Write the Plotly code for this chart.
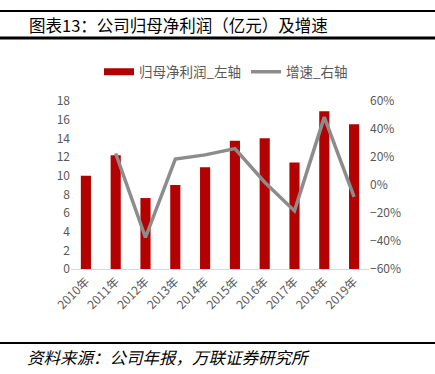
import plotly.graph_objects as go

years = ["2010年", "2011年", "2012年", "2013年", "2014年", "2015年", "2016年", "2017年", "2018年", "2019年"]
profit = [10.0, 12.2, 7.6, 9.0, 10.9, 13.75, 14.0, 11.4, 16.9, 15.5]
growth = [None, 0.225, -0.375, 0.185, 0.215, 0.26, 0.02, -0.185, 0.485, -0.085]

title_text = "图表13：公司归母净利润（亿元）及增速"
source_text = "资料来源：公司年报，万联证券研究所"

W, H = 435, 374
L, R, T, B = 71, 369, 101, 269
pw, ph = R - L, B - T

def px(x):
    return (x - L) / pw

def py(y):
    return (B - y) / ph

FONT = "Noto Sans CJK SC, Noto Sans, sans-serif"
GRAY = "#595959"
RED = "#B30000"
LGRAY = "#8C8C8C"

fig = go.Figure()
fig.add_trace(go.Bar(x=years, y=profit, name="归母净利润_左轴",
                     marker=dict(color=RED, line=dict(width=0)), yaxis="y", showlegend=False))
fig.add_trace(go.Scatter(x=[None], y=[None], name="归母净利润_左轴", mode="lines",
                         line=dict(color=RED, width=7), yaxis="y"))
fig.add_trace(go.Scatter(x=years, y=growth, name="增速_右轴", mode="lines",
                         line=dict(color=LGRAY, width=3.5), yaxis="y2"))

fig.update_layout(
    width=W, height=H,
    margin=dict(l=L, r=W - R, t=T, b=H - B, autoexpand=False),
    plot_bgcolor="white", paper_bgcolor="white",
    font=dict(family=FONT, size=12, color=GRAY),
    bargap=0.66,
    showlegend=True,
    legend=dict(orientation="h", x=px(226), y=py(72), xanchor="center", yanchor="middle",
                font=dict(size=13.5, color=GRAY), itemwidth=30, tracegroupgap=0,
                bgcolor="rgba(0,0,0,0)"),
    xaxis=dict(tickangle=-45, showline=True, linecolor="#D9D9D9", linewidth=1,
               showgrid=False, ticks="", tickfont=dict(size=12, color=GRAY)),
    yaxis=dict(range=[0, 18], dtick=2, showgrid=False, zeroline=False, showline=False,
               ticks="", tickfont=dict(size=12, color=GRAY)),
    yaxis2=dict(range=[-0.6, 0.6], dtick=0.2, tickformat=".0%", overlaying="y", side="right",
                showgrid=False, zeroline=False, showline=False, ticks="",
                tickfont=dict(size=12, color=GRAY)),
    shapes=[
        dict(type="line", xref="paper", yref="paper", x0=px(0), x1=px(435), y0=py(11), y1=py(11),
             line=dict(color="black", width=2)),
        dict(type="line", xref="paper", yref="paper", x0=px(0), x1=px(435), y0=py(38), y1=py(38),
             line=dict(color="black", width=3)),
        dict(type="line", xref="paper", yref="paper", x0=px(0), x1=px(435), y0=py(343), y1=py(343),
             line=dict(color="black", width=2)),
    ],
    annotations=[
        dict(text=title_text, xref="paper", yref="paper", x=px(27), y=py(25),
             xanchor="left", yanchor="middle", showarrow=False,
             font=dict(size=16.5, color="black", family=FONT)),
        dict(text="<i>" + source_text + "</i>", xref="paper", yref="paper", x=px(25), y=py(357),
             xanchor="left", yanchor="middle", showarrow=False,
             font=dict(size=16.5, color="black", family=FONT)),
    ],
)

fig.write_html("out.html", config={"displayModeBar": False},
               post_script="document.body.style.margin='0';document.body.style.padding='0';")
